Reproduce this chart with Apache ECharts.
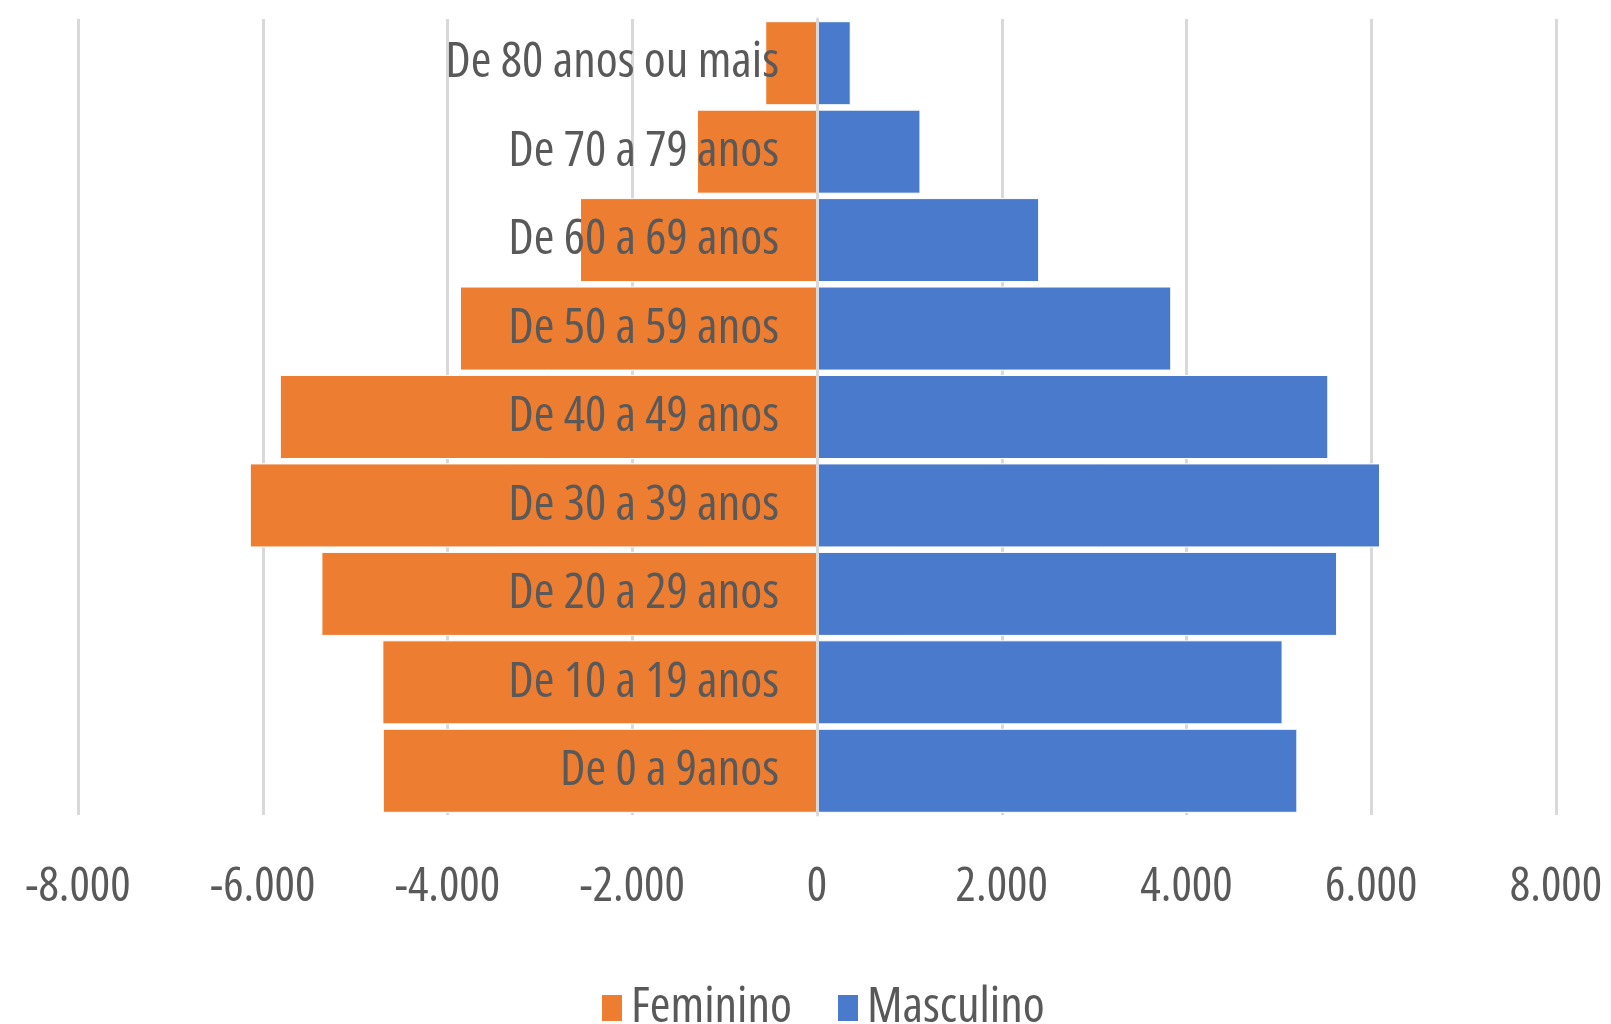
<!DOCTYPE html>
<html>
<head>
<meta charset="utf-8">
<script src="https://cdn.jsdelivr.net/npm/echarts@6/dist/echarts.min.js"></script>
<style>
  html, body { margin: 0; padding: 0; background: #fff; }
  #chart { width: 1611px; height: 1024px; }
</style>
</head>
<body>
<div id="chart"></div>
<script>
// faixas etárias, de baixo para cima
const faixas = ['De 0 a 9anos', 'De 10 a 19 anos', 'De 20 a 29 anos', 'De 30 a 39 anos',
  'De 40 a 49 anos', 'De 50 a 59 anos', 'De 60 a 69 anos', 'De 70 a 79 anos', 'De 80 anos ou mais']
// feminino fica do lado negativo
const feminino = [-4700, -4705, -5365, -6140, -5815, -3865, -2565, -1300, -560]
const masculino = [5200, 5040, 5630, 6095, 5535, 3835, 2405, 1120, 365]
const eixoMin = -8000
const eixoMax = 8000
const eixoPasso = 2000

// Open Sans é variável, 'condensed' no peso vira font-stretch no canvas
const fonte = "'Open Sans', sans-serif"
const cinza = '#595959'

const fmt = (v) => {
  const s = Math.abs(v).toString().replace(/\B(?=(\d{3})+(?!\d))/g, '.')
  return v < 0 ? '-' + s : s
}

const chart = echarts.init(document.getElementById('chart'))
const option = {
  animation: false,
  backgroundColor: '#fff',
  textStyle: { fontFamily: fonte },
  grid: {
    left: 78,
    right: 55,
    top: 19,
    bottom: 209,
    containLabel: false,
    outerBoundsMode: 'none',
  },
  legend: {
    data: ['Feminino', 'Masculino'],
    left: 597,
    top: 978,
    icon: 'rect',
    itemWidth: 20,
    itemHeight: 26,
    itemGap: 46,
    itemStyle: { borderWidth: 0 },
    textStyle: { color: cinza, fontSize: 50, fontFamily: fonte, fontWeight: 'condensed', padding: [0, 0, 0, 4] },
  },
  xAxis: {
    type: 'value',
    min: eixoMin,
    max: eixoMax,
    interval: eixoPasso,
    axisLine: { show: false },
    axisTick: { show: false },
    splitLine: { show: true, lineStyle: { color: '#d9d9d9', width: 3 } },
    axisLabel: {
      color: cinza,
      fontSize: 48,
      fontFamily: fonte,
      fontWeight: 'semi-condensed',
      margin: 72,
      verticalAlign: 'middle',
      formatter: fmt,
    },
  },
  yAxis: {
    type: 'category',
    data: faixas,
    z: 10,
    // eixo de categorias levado para o zero
    offset: -739,
    axisLine: { show: true, onZero: false, lineStyle: { color: '#d9d9d9', width: 3 } },
    axisTick: { show: false },
    axisLabel: {
      color: cinza,
      fontSize: 50,
      fontFamily: fonte,
      fontWeight: 'condensed',
      margin: 38,
    },
  },
  series: [
    {
      name: 'Feminino',
      type: 'bar',
      stack: 'pop',
      data: feminino,
      barCategoryGap: '5%',
      itemStyle: { color: '#ED7D31', borderColor: '#fff', borderWidth: 1 },
    },
    {
      name: 'Masculino',
      type: 'bar',
      stack: 'pop',
      data: masculino,
      barCategoryGap: '5%',
      itemStyle: { color: '#4A7ACB', borderColor: '#fff', borderWidth: 1 },
    },
  ],
}
chart.setOption(option)
</script>
</body>
</html>
